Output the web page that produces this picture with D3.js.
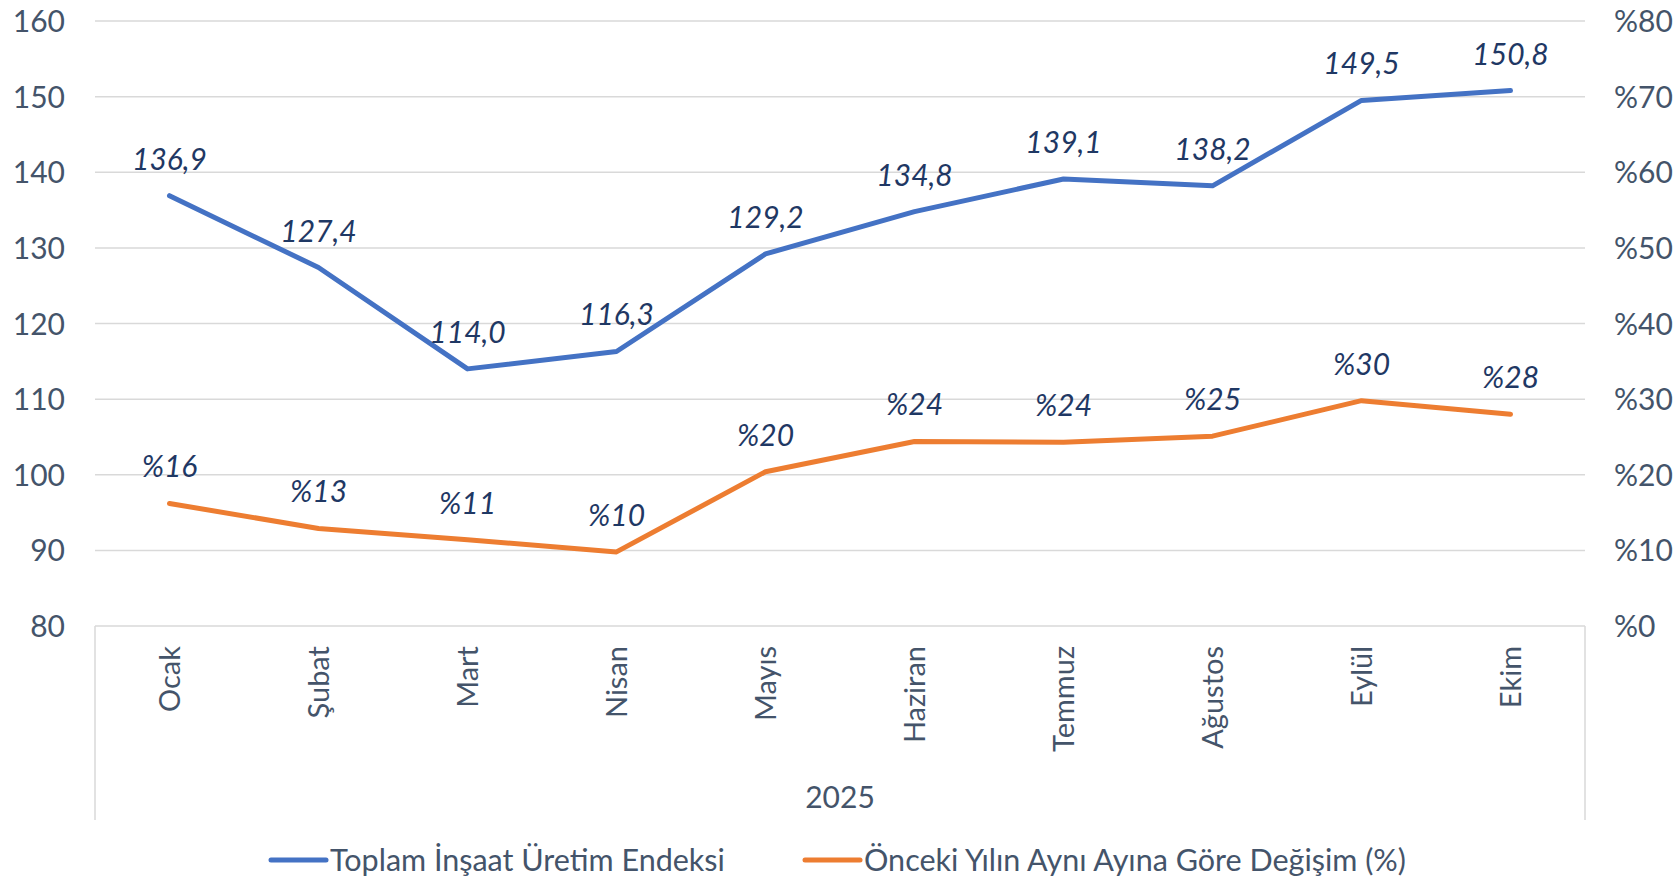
<!DOCTYPE html>
<html>
<head>
<meta charset="utf-8">
<script src="https://cdn.jsdelivr.net/npm/d3@7"></script>
<style>
  body { margin: 0; background: #fff; }
  svg text { font-family: Lato, "Noto Sans", sans-serif; }
</style>
</head>
<body>
<div id="chart"></div>
<script>
// data
const months = ["Ocak", "Şubat", "Mart", "Nisan", "Mayıs", "Haziran", "Temmuz", "Ağustos", "Eylül", "Ekim"];
const indexVals = [136.9, 127.4, 114.0, 116.3, 129.2, 134.8, 139.1, 138.2, 149.5, 150.8];
const changeVals = [16.2, 12.9, 11.4, 9.8, 20.4, 24.4, 24.3, 25.1, 29.8, 28.0];
const leftTicks = [80, 90, 100, 110, 120, 130, 140, 150, 160];
const rightTicks = [0, 10, 20, 30, 40, 50, 60, 70, 80];
const yearLabel = "2025";
const seriesNames = ["Toplam İnşaat Üretim Endeksi", "Önceki Yılın Aynı Ayına Göre Değişim (%)"];

const W = 1680, H = 880;
const margin = {left: 95, right: 95, top: 21, bottom: 254};
const blue = "#4472c4", orange = "#ed7d31";
const axisCol = "#44546a", labelCol = "#1f3864", gridCol = "#d9d9d9";

let svg = d3.select("#chart").append("svg")
  .attr("width", W)
  .attr("height", H);

let x = d3.scaleBand().domain(months).range([margin.left, W - margin.right]);
let yL = d3.scaleLinear().domain([80, 160]).range([H - margin.bottom, margin.top]);
let yR = d3.scaleLinear().domain([0, 80]).range([H - margin.bottom, margin.top]);
let cx = function(d){ return x(d) + x.bandwidth() / 2; };

//gridlines
svg.append("g").selectAll("line")
  .data(leftTicks)
  .enter().append("line")
  .attr("x1", margin.left).attr("x2", W - margin.right)
  .attr("y1", d => yL(d)).attr("y2", d => yL(d))
  .attr("stroke", gridCol).attr("stroke-width", 1.5);

//category axis boundaries (multi level)
svg.append("g").selectAll("line")
  .data([margin.left, W - margin.right])
  .enter().append("line")
  .attr("x1", d => d).attr("x2", d => d)
  .attr("y1", yL(80)).attr("y2", 820)
  .attr("stroke", gridCol).attr("stroke-width", 1.5);

//left axis
let leftAxis = svg.append("g")
  .attr("transform", "translate(" + 65 + ",0)")
  .call(d3.axisLeft(yL).tickValues(leftTicks).tickSize(0).tickPadding(0));
leftAxis.select(".domain").remove();
leftAxis.selectAll("text").attr("fill", axisCol).style("font-size", "30px").attr("dy", "0.35em");

//right axis
let rightAxis = svg.append("g")
  .attr("transform", "translate(" + 1614 + ",0)")
  .call(d3.axisRight(yR).tickValues(rightTicks).tickSize(0).tickPadding(0).tickFormat(d => "%" + d));
rightAxis.select(".domain").remove();
rightAxis.selectAll("text").attr("fill", axisCol).style("font-size", "30px").attr("dy", "0.35em");

//month labels (rotated)
svg.append("g").selectAll("text")
  .data(months)
  .enter().append("text")
  .attr("transform", d => "translate(" + (cx(d) + 10) + "," + (yL(80) + 20) + ") rotate(-90)")
  .attr("text-anchor", "end")
  .attr("fill", axisCol)
  .style("font-size", "29px")
  .text(d => d);

svg.append("text")
  .attr("x", (margin.left + W - margin.right) / 2)
  .attr("y", 808)
  .attr("text-anchor", "middle")
  .attr("fill", axisCol)
  .style("font-size", "30px")
  .text(yearLabel);

//lines
let lineL = d3.line().x((d, i) => cx(months[i])).y(d => yL(d));
let lineR = d3.line().x((d, i) => cx(months[i])).y(d => yR(d));

svg.append("path").datum(indexVals)
  .attr("d", lineL).attr("fill", "none")
  .attr("stroke", blue).attr("stroke-width", 5).attr("stroke-linecap", "round").attr("stroke-linejoin", "round");
svg.append("path").datum(changeVals)
  .attr("d", lineR).attr("fill", "none")
  .attr("stroke", orange).attr("stroke-width", 5).attr("stroke-linecap", "round").attr("stroke-linejoin", "round");

//data labels
svg.append("g").selectAll("text")
  .data(indexVals)
  .enter().append("text")
  .attr("x", (d, i) => cx(months[i]))
  .attr("y", d => yL(d) - 26)
  .attr("text-anchor", "middle")
  .attr("fill", labelCol)
  .style("font-size", "30px").style("font-style", "italic")
  .text(d => d3.format(".1f")(d).replace(".", ","));

svg.append("g").selectAll("text")
  .data(changeVals)
  .enter().append("text")
  .attr("x", (d, i) => cx(months[i]))
  .attr("y", d => yR(d) - 26)
  .attr("text-anchor", "middle")
  .attr("fill", labelCol)
  .style("font-size", "30px").style("font-style", "italic")
  .text(d => "%" + Math.round(d));

//legend
let legend = svg.append("g");
let legX = [271, 805];
[blue, orange].forEach(function(c, i){
  legend.append("line")
    .attr("x1", legX[i]).attr("x2", legX[i] + 55)
    .attr("y1", 860).attr("y2", 860)
    .attr("stroke", c).attr("stroke-width", 5).attr("stroke-linecap", "round");
  legend.append("text")
    .attr("x", legX[i] + 59).attr("y", 871)
    .attr("fill", axisCol)
    .style("font-size", "30.5px")
    .text(seriesNames[i]);
});
</script>
</body>
</html>
